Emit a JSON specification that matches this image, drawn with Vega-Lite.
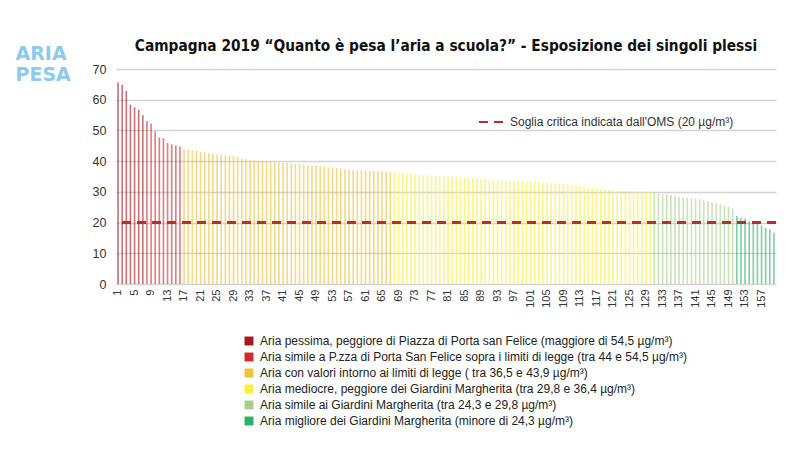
{
  "$schema": "https://vega.github.io/schema/vega-lite/v6.json",
  "autosize": "none",
  "width": 660,
  "height": 215,
  "padding": {"left": 116, "top": 69, "right": 24, "bottom": 166},
  "background": "white",
  "title": {
    "text": "Campagna 2019 “Quanto è pesa l’aria a scuola?” - Esposizione dei singoli plessi",
    "font": "Liberation Sans Narrow, DejaVu Sans Condensed, sans-serif",
    "fontSize": 15.3,
    "fontWeight": "bold",
    "color": "#111111",
    "anchor": "middle",
    "frame": "group",
    "offset": -10
  },
  "data": {
    "values": [
      {"n": 1, "v": 65.6, "c": "c1"}, {"n": 2, "v": 64.9, "c": "c1"}, {"n": 3, "v": 62.9, "c": "c1"},
      {"n": 4, "v": 58.4, "c": "c1"}, {"n": 5, "v": 57.6, "c": "c1"}, {"n": 6, "v": 56.7, "c": "c1"},
      {"n": 7, "v": 55.0, "c": "c1"}, {"n": 8, "v": 53.1, "c": "c2"}, {"n": 9, "v": 52.2, "c": "c2"},
      {"n": 10, "v": 49.7, "c": "c2"}, {"n": 11, "v": 47.7, "c": "c2"}, {"n": 12, "v": 47.5, "c": "c2"},
      {"n": 13, "v": 45.9, "c": "c2"}, {"n": 14, "v": 45.5, "c": "c2"}, {"n": 15, "v": 45.1, "c": "c2"},
      {"n": 16, "v": 44.8, "c": "c2"},
      {"n": 17, "v": 43.9, "c": "c3"}, {"n": 18, "v": 43.7, "c": "c3"}, {"n": 19, "v": 43.5, "c": "c3"},
      {"n": 20, "v": 43.3, "c": "c3"}, {"n": 21, "v": 43.1, "c": "c3"}, {"n": 22, "v": 42.8, "c": "c3"},
      {"n": 23, "v": 42.6, "c": "c3"}, {"n": 24, "v": 42.4, "c": "c3"}, {"n": 25, "v": 42.2, "c": "c3"},
      {"n": 26, "v": 42.0, "c": "c3"}, {"n": 27, "v": 41.9, "c": "c3"}, {"n": 28, "v": 41.8, "c": "c3"},
      {"n": 29, "v": 41.7, "c": "c3"}, {"n": 30, "v": 41.3, "c": "c3"}, {"n": 31, "v": 40.9, "c": "c3"},
      {"n": 32, "v": 40.6, "c": "c3"}, {"n": 33, "v": 40.3, "c": "c3"}, {"n": 34, "v": 40.2, "c": "c3"},
      {"n": 35, "v": 40.1, "c": "c3"}, {"n": 36, "v": 40.0, "c": "c3"}, {"n": 37, "v": 40.0, "c": "c3"},
      {"n": 38, "v": 39.8, "c": "c3"}, {"n": 39, "v": 39.7, "c": "c3"}, {"n": 40, "v": 39.6, "c": "c3"},
      {"n": 41, "v": 39.5, "c": "c3"}, {"n": 42, "v": 39.4, "c": "c3"}, {"n": 43, "v": 39.3, "c": "c3"},
      {"n": 44, "v": 39.1, "c": "c3"}, {"n": 45, "v": 39.0, "c": "c3"}, {"n": 46, "v": 38.9, "c": "c3"},
      {"n": 47, "v": 38.7, "c": "c3"}, {"n": 48, "v": 38.6, "c": "c3"}, {"n": 49, "v": 38.5, "c": "c3"},
      {"n": 50, "v": 38.3, "c": "c3"}, {"n": 51, "v": 38.2, "c": "c3"}, {"n": 52, "v": 38.0, "c": "c3"},
      {"n": 53, "v": 37.9, "c": "c3"}, {"n": 54, "v": 37.7, "c": "c3"}, {"n": 55, "v": 37.5, "c": "c3"},
      {"n": 56, "v": 37.4, "c": "c3"}, {"n": 57, "v": 37.2, "c": "c3"}, {"n": 58, "v": 37.1, "c": "c3"},
      {"n": 59, "v": 37.0, "c": "c3"}, {"n": 60, "v": 37.0, "c": "c3"}, {"n": 61, "v": 36.9, "c": "c3"},
      {"n": 62, "v": 36.8, "c": "c3"}, {"n": 63, "v": 36.8, "c": "c3"}, {"n": 64, "v": 36.7, "c": "c3"},
      {"n": 65, "v": 36.6, "c": "c3"}, {"n": 66, "v": 36.6, "c": "c3"}, {"n": 67, "v": 36.5, "c": "c3"},
      {"n": 68, "v": 36.3, "c": "c4"}, {"n": 69, "v": 36.1, "c": "c4"}, {"n": 70, "v": 36.0, "c": "c4"},
      {"n": 71, "v": 35.9, "c": "c4"}, {"n": 72, "v": 35.8, "c": "c4"}, {"n": 73, "v": 35.7, "c": "c4"},
      {"n": 74, "v": 35.6, "c": "c4"}, {"n": 75, "v": 35.5, "c": "c4"}, {"n": 76, "v": 35.4, "c": "c4"},
      {"n": 77, "v": 35.3, "c": "c4"}, {"n": 78, "v": 35.2, "c": "c4"}, {"n": 79, "v": 35.1, "c": "c4"},
      {"n": 80, "v": 35.0, "c": "c4"}, {"n": 81, "v": 35.0, "c": "c4"}, {"n": 82, "v": 34.9, "c": "c4"},
      {"n": 83, "v": 34.8, "c": "c4"}, {"n": 84, "v": 34.7, "c": "c4"}, {"n": 85, "v": 34.6, "c": "c4"},
      {"n": 86, "v": 34.5, "c": "c4"}, {"n": 87, "v": 34.4, "c": "c4"}, {"n": 88, "v": 34.3, "c": "c4"},
      {"n": 89, "v": 34.2, "c": "c4"}, {"n": 90, "v": 34.1, "c": "c4"}, {"n": 91, "v": 34.0, "c": "c4"},
      {"n": 92, "v": 33.9, "c": "c4"}, {"n": 93, "v": 33.9, "c": "c4"}, {"n": 94, "v": 33.8, "c": "c4"},
      {"n": 95, "v": 33.7, "c": "c4"}, {"n": 96, "v": 33.6, "c": "c4"}, {"n": 97, "v": 33.5, "c": "c4"},
      {"n": 98, "v": 33.5, "c": "c4"}, {"n": 99, "v": 33.4, "c": "c4"}, {"n": 100, "v": 33.3, "c": "c4"},
      {"n": 101, "v": 33.2, "c": "c4"}, {"n": 102, "v": 33.2, "c": "c4"}, {"n": 103, "v": 33.1, "c": "c4"},
      {"n": 104, "v": 33.0, "c": "c4"}, {"n": 105, "v": 33.0, "c": "c4"}, {"n": 106, "v": 32.9, "c": "c4"},
      {"n": 107, "v": 32.8, "c": "c4"}, {"n": 108, "v": 32.6, "c": "c4"}, {"n": 109, "v": 32.5, "c": "c4"},
      {"n": 110, "v": 32.3, "c": "c4"}, {"n": 111, "v": 32.2, "c": "c4"}, {"n": 112, "v": 32.0, "c": "c4"},
      {"n": 113, "v": 31.8, "c": "c4"}, {"n": 114, "v": 31.6, "c": "c4"}, {"n": 115, "v": 31.4, "c": "c4"},
      {"n": 116, "v": 31.2, "c": "c4"}, {"n": 117, "v": 31.0, "c": "c4"}, {"n": 118, "v": 30.9, "c": "c4"},
      {"n": 119, "v": 30.7, "c": "c4"}, {"n": 120, "v": 30.6, "c": "c4"}, {"n": 121, "v": 30.5, "c": "c4"},
      {"n": 122, "v": 30.4, "c": "c4"}, {"n": 123, "v": 30.3, "c": "c4"}, {"n": 124, "v": 30.2, "c": "c4"},
      {"n": 125, "v": 30.2, "c": "c4"}, {"n": 126, "v": 30.1, "c": "c4"}, {"n": 127, "v": 30.1, "c": "c4"},
      {"n": 128, "v": 30.0, "c": "c4"}, {"n": 129, "v": 30.0, "c": "c4"}, {"n": 130, "v": 29.9, "c": "c4"},
      {"n": 131, "v": 29.7, "c": "c5"}, {"n": 132, "v": 29.5, "c": "c5"}, {"n": 133, "v": 29.4, "c": "c5"},
      {"n": 134, "v": 29.2, "c": "c5"}, {"n": 135, "v": 29.0, "c": "c5"}, {"n": 136, "v": 28.7, "c": "c5"},
      {"n": 137, "v": 28.4, "c": "c5"}, {"n": 138, "v": 28.1, "c": "c5"}, {"n": 139, "v": 28.0, "c": "c5"},
      {"n": 140, "v": 27.8, "c": "c5"}, {"n": 141, "v": 27.7, "c": "c5"}, {"n": 142, "v": 27.6, "c": "c5"},
      {"n": 143, "v": 27.3, "c": "c5"}, {"n": 144, "v": 27.0, "c": "c5"}, {"n": 145, "v": 26.7, "c": "c5"},
      {"n": 146, "v": 26.3, "c": "c5"}, {"n": 147, "v": 26.0, "c": "c5"}, {"n": 148, "v": 25.6, "c": "c5"},
      {"n": 149, "v": 25.2, "c": "c5"}, {"n": 150, "v": 24.5, "c": "c5"},
      {"n": 151, "v": 22.2, "c": "c6"}, {"n": 152, "v": 21.6, "c": "c6"}, {"n": 153, "v": 21.3, "c": "c6"},
      {"n": 154, "v": 20.5, "c": "c6"}, {"n": 155, "v": 20.2, "c": "c6"}, {"n": 156, "v": 19.5, "c": "c6"},
      {"n": 157, "v": 19.0, "c": "c6"}, {"n": 158, "v": 18.3, "c": "c6"}, {"n": 159, "v": 17.9, "c": "c6"},
      {"n": 160, "v": 16.7, "c": "c6"}
    ]
  },
  "layer": [
    {
      "mark": {"type": "bar", "width": {"band": 0.4}, "opacity": 0.6},
      "encoding": {
        "x": {
          "field": "n",
          "type": "ordinal",
          "scale": {"paddingInner": 0, "paddingOuter": 0},
          "axis": {
            "values": [1, 5, 9, 13, 17, 21, 25, 29, 33, 37, 41, 45, 49, 53, 57, 61, 65, 69, 73, 77, 81, 85, 89, 93, 97, 101, 105, 109, 113, 117, 121, 125, 129, 133, 137, 141, 145, 149, 153, 157],
            "labelAngle": -90,
            "labelFontSize": 11,
            "labelColor": "#333333",
            "labelPadding": 5,
            "domain": false,
            "ticks": false,
            "title": null
          }
        },
        "y": {
          "field": "v",
          "type": "quantitative",
          "scale": {"domain": [0, 70], "nice": false},
          "axis": {
            "values": [0, 10, 20, 30, 40, 50, 60, 70],
            "labelOverlap": false,
            "labelFontSize": 12.5,
            "labelColor": "#333333",
            "labelPadding": 10,
            "domain": false,
            "ticks": false,
            "gridColor": "#d4d4d4",
            "gridWidth": 1.5,
            "title": ["ARIA", "PESA"],
            "titleFont": "DejaVu Sans",
            "titleFontSize": 19,
            "titleFontWeight": "bold",
            "titleColor": "#8ccbef",
            "titleAngle": 0,
            "titleAlign": "left",
            "titleBaseline": "top",
            "titleLineHeight": 21,
            "titleX": -101,
            "titleY": -25
          }
        },
        "color": {
          "field": "c",
          "type": "nominal",
          "scale": {
            "domain": ["c1", "c2", "c3", "c4", "c5", "c6"],
            "range": ["#a3191d", "#d3272b", "#efc23c", "#fbef3a", "#a8d08d", "#2bb26a"]
          },
          "legend": {
            "orient": "none",
            "legendX": 127,
            "legendY": 266,
            "direction": "vertical",
            "title": null,
            "symbolType": "square",
            "symbolSize": 80,
            "symbolOpacity": 1,
            "symbolStrokeWidth": 0,
            "labelFont": "Liberation Sans",
            "labelFontSize": 12,
            "labelColor": "#222222",
            "labelLimit": 600,
            "labelOffset": 5,
            "rowPadding": 4,
            "labelExpr": "{'c1': 'Aria pessima, peggiore di Piazza di Porta san Felice (maggiore di 54,5 µg/m³)', 'c2': 'Aria simile a P.zza di Porta San Felice sopra i limiti di legge (tra 44 e 54,5 µg/m³)', 'c3': 'Aria con valori intorno ai limiti di legge ( tra 36,5 e 43,9 µg/m³)', 'c4': 'Aria mediocre, peggiore dei Giardini Margherita (tra 29,8 e 36,4 µg/m³)', 'c5': 'Aria simile ai Giardini Margherita (tra 24,3 e 29,8 µg/m³)', 'c6': 'Aria migliore dei Giardini Margherita (minore di 24,3 µg/m³)'}[datum.label]"
          }
        }
      }
    },
    {
      "mark": {"type": "rule", "color": "#b5302a", "strokeWidth": 2},
      "encoding": {
        "y": {
          "datum": 20,
          "type": "quantitative",
          "axis": {
            "values": [0, 10, 20, 30, 40, 50, 60, 70],
            "labelOverlap": false,
            "title": ["ARIA", "PESA"]
          }
        },
        "strokeDash": {
          "datum": "Soglia critica indicata dall'OMS (20 µg/m³)",
          "scale": {"range": [[9, 6]]},
          "legend": {
            "orient": "none",
            "legendX": 362,
            "legendY": 40,
            "title": null,
            "symbolType": "stroke",
            "symbolSize": 576,
            "symbolStrokeWidth": 2,
            "symbolStrokeColor": "#b5302a",
            "symbolDash": [6, 3],
            "labelFont": "Liberation Sans",
            "labelFontSize": 12,
            "labelColor": "#333333",
            "labelLimit": 400,
            "labelOffset": 6
          }
        }
      }
    }
  ],
  "config": {
    "font": "Liberation Sans",
    "view": {"stroke": null}
  }
}
